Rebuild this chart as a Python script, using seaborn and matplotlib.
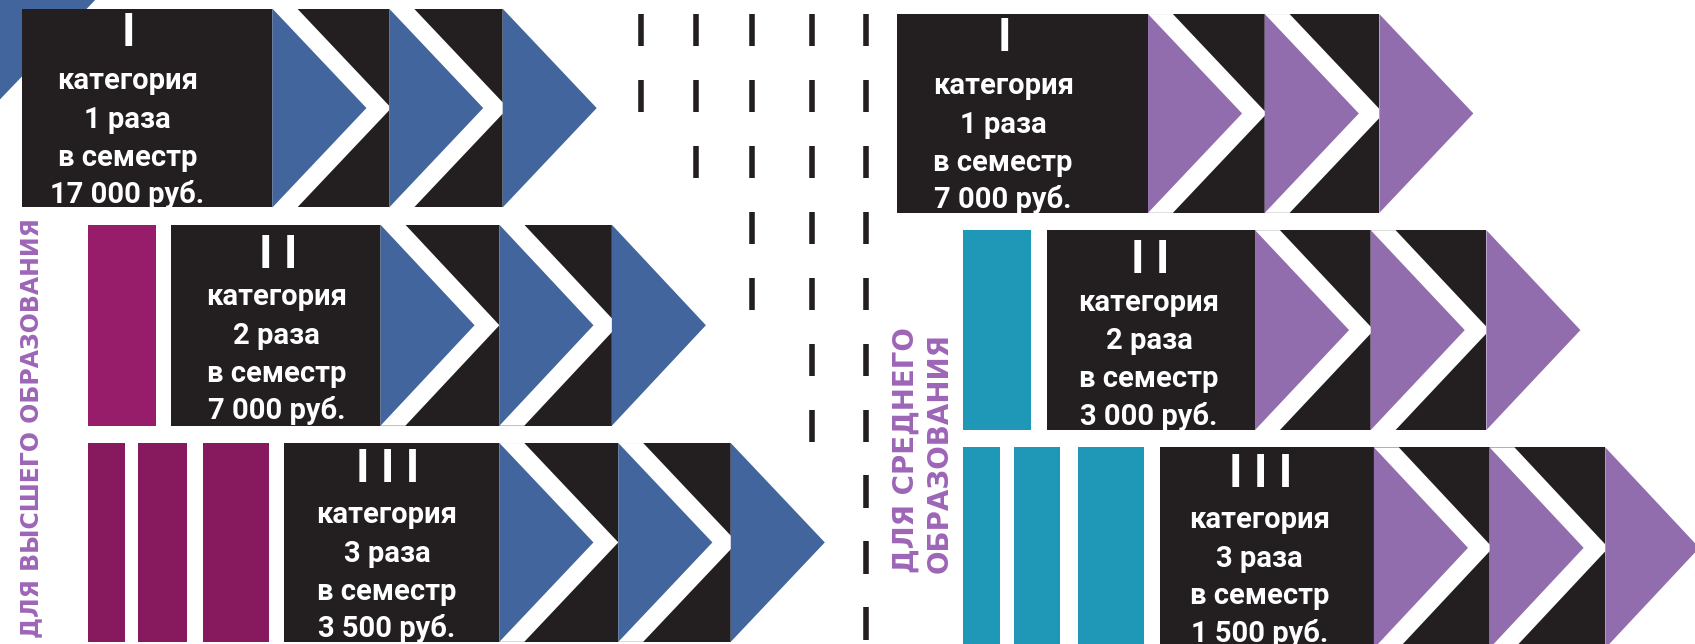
import numpy as np
import matplotlib.pyplot as plt
from matplotlib.patches import Polygon, Rectangle
import seaborn as sns

# --- data ---
levels = ['ДЛЯ ВЫСШЕГО ОБРАЗОВАНИЯ', 'ДЛЯ СРЕДНЕГО', 'ОБРАЗОВАНИЯ']
numerals = ['I', 'I I', 'I I I']
times = [1, 2, 3]
prices_higher = ['17 000', '7 000', '3 500']
prices_secondary = ['7 000', '3 000', '1 500']
dash_counts = [2, 3, 5, 7, 10]

sns.set_theme(style='white')
plt.rcParams['font.family'] = ['Roboto', 'DejaVu Sans']

BLACK = '#231f20'
BLUE, PURPLE, MAGENTA, MAGENTA2, TEAL, LABEL = sns.color_palette(
    ['#41659c', '#916dad', '#971c6a', '#871a5f', '#1f98b7', '#9d65b6'])

W, G = 87, 23  # triangle width, white gap

# layout in image pixels: (box left, top, bottom, triangle bases, text centre)
rows_left = [(20, 8, 192, [252, 360, 465], 118),
             (158, 208, 394, [352, 462, 566], 256),
             (263, 410, 594, [462, 572, 676], 358)]
stripes_left = [[], [(81, 144)], [(81, 116), (128, 173), (188, 249)]]
rows_right = [(830, 13, 197, [1062, 1170, 1276], 928),
              (969, 213, 398, [1161, 1268, 1375], 1063),
              (1073, 414, 600, [1271, 1378, 1485], 1165)]
stripes_right = [[], [(891, 954)], [(891, 925), (938, 981), (997, 1058)]]
numeral_base = [34.5, 40, 36.5]

fig = plt.figure(figsize=(16.95, 6.44), dpi=100)
ax = fig.add_axes([0, 0, 1, 1])
ax.set_xlim(0, 1568)
ax.set_ylim(596, 0)
ax.axis('off')

# corner triangle
ax.add_patch(Polygon([(0, 0), (88, 0), (0, 92)], color=BLUE, lw=0))


def draw_row(x0, top, bot, bases, tx, color, i, price, stripes, scol):
    mid = (top + bot) / 2
    for s0, s1 in stripes:
        ax.add_patch(Rectangle((s0, top), s1 - s0, bot - top, color=scol, lw=0))
    ax.add_patch(Rectangle((x0, top), bases[-1] - x0, bot - top, color=BLACK, lw=0))
    for b in bases:
        ax.add_patch(Polygon([(b, top), (b + G, top), (b + W + G, mid),
                              (b + G, bot), (b, bot)], color='white', lw=0))
        ax.add_patch(Polygon([(b, top), (b + W, mid), (b, bot)], color=color, lw=0))
    ax.text(tx + 1, top + numeral_base[i], numerals[i], color='white', fontsize=33,
            fontweight='bold', ha='center', va='baseline')
    lines = ['категория', f'{times[i]} раза', 'в семестр', f'{price} руб.']
    for off, t in zip([67, 103, 138, 172], lines):
        ax.text(tx, top + off, t, color='white', fontsize=21, fontweight='bold',
                ha='center', va='center')


for i, r in enumerate(rows_left):
    scol = MAGENTA if i == 1 else MAGENTA2
    draw_row(*r, BLUE, i, prices_higher[i], stripes_left[i], scol)
for i, r in enumerate(rows_right):
    draw_row(*r, PURPLE, i, prices_secondary[i], stripes_right[i], TEAL)

# dashed separators
for x, n in zip([593, 644, 696, 751, 801], dash_counts):
    y0 = 13 + 61 * np.arange(n)
    ax.vlines([x] * n, y0, y0 + 30, color=BLACK, lw=4)

# vertical side labels
lab = dict(rotation=90, rotation_mode='anchor', color=LABEL, ha='left',
           va='baseline', fontweight='bold', family=['DejaVu Sans'])
ax.text(35.5, 590, levels[0], fontsize=17, **lab)
ax.text(845, 530, levels[1], fontsize=20, **lab)
ax.text(877, 530, levels[2], fontsize=20, **lab)

fig.savefig('out.png', dpi=100)
